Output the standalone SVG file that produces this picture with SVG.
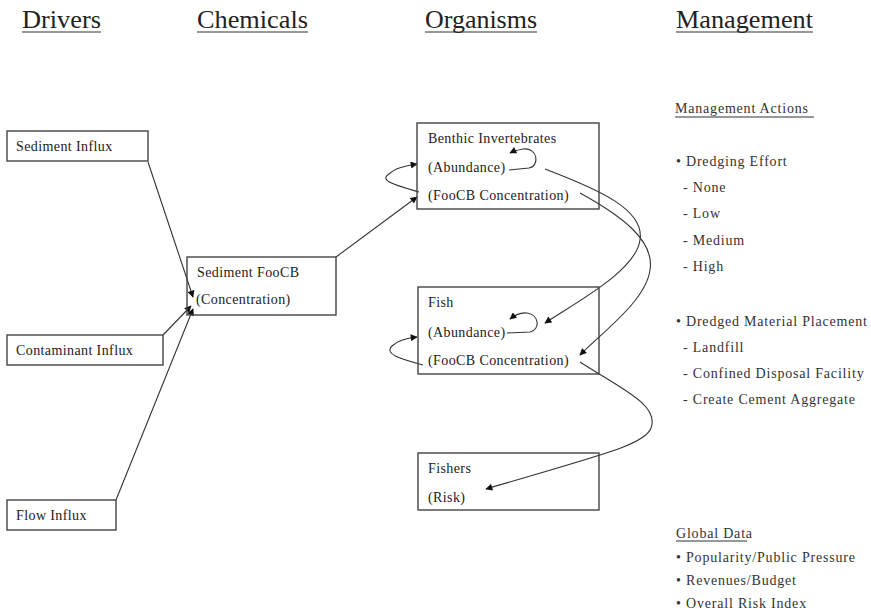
<svg xmlns="http://www.w3.org/2000/svg" width="871" height="616" viewBox="0 0 871 616">
  <style>
    .hdr { font-family: "Liberation Serif", "Times New Roman", serif; font-size: 25px; fill: #222; }
    .ul { stroke: #333; stroke-width: 1.2; }
    .box { fill: none; stroke: #444; stroke-width: 1.4; }
    .t { font-family: "Liberation Serif", "Times New Roman", serif; font-size: 14px; letter-spacing: 0.4px; fill: #222; }
    .m { font-family: "Liberation Serif", "Times New Roman", serif; font-size: 14px; letter-spacing: 0.8px; fill: #333; }
    .link { fill: none; stroke: #333; stroke-width: 1.1; }
    .arr { marker-end: url(#head); }
  </style>
  <defs>
    <marker id="head" viewBox="0 0 10 10" refX="9" refY="5" markerWidth="8" markerHeight="7" markerUnits="userSpaceOnUse" orient="auto">
      <path d="M0,0 L10,5 L0,10 z" fill="#111"/>
    </marker>
  </defs>
  <rect width="871" height="616" fill="#fff"/>

  <!-- column headers -->
  <g id="headers">
    <text class="hdr" x="22" y="28" textLength="79" lengthAdjust="spacingAndGlyphs">Drivers</text>
    <line class="ul" x1="22" y1="32" x2="101" y2="32"/>
    <text class="hdr" x="197" y="28" textLength="111" lengthAdjust="spacingAndGlyphs">Chemicals</text>
    <line class="ul" x1="197" y1="32" x2="308" y2="32"/>
    <text class="hdr" x="425" y="28" textLength="112" lengthAdjust="spacingAndGlyphs">Organisms</text>
    <line class="ul" x1="425" y1="32" x2="537" y2="32"/>
    <text class="hdr" x="676" y="28" textLength="137" lengthAdjust="spacingAndGlyphs">Management</text>
    <line class="ul" x1="676" y1="32" x2="813" y2="32"/>
  </g>

  <!-- connectors -->
  <g id="connectors">
    <path class="link arr" d="M148,162 L193,297"/>
    <path class="link arr" d="M163,335 L191,306"/>
    <path class="link arr" d="M116,500 L193,309"/>
    <path class="link arr" d="M336,257 L417,197"/>
    <path class="link arr" d="M419,192 C398,186 378,181 389,174 C395,168 405,166 417,164"/>
    <path class="link arr" d="M509,170 L529,168 C540,166 538,147 523,149 C518,150 514,151 510,153"/>
    <path class="link arr" d="M545,169 C600,190 645,210 640,240 C636,270 580,300 545,323"/>
    <path class="link arr" d="M580,193 C620,215 655,240 650,270 C646,300 605,330 580,355"/>
    <path class="link arr" d="M507,333 L530,332 C540,330 540,315 527,313 C520,312 515,315 510,319"/>
    <path class="link arr" d="M423,365 C405,360 383,355 392,346 C398,340 408,338 417,337"/>
    <path class="link arr" d="M580,362 C620,388 660,405 651,428 C645,445 600,455 486,489"/>
  </g>

  <!-- drivers -->
  <g id="sediment-influx">
    <rect class="box" x="7" y="131" width="141" height="30"/>
    <text class="t" x="16" y="151">Sediment Influx</text>
  </g>
  <g id="contaminant-influx">
    <rect class="box" x="7" y="335" width="156" height="30"/>
    <text class="t" x="16" y="355">Contaminant Influx</text>
  </g>
  <g id="flow-influx">
    <rect class="box" x="7" y="500" width="109" height="30"/>
    <text class="t" x="16" y="520">Flow Influx</text>
  </g>

  <!-- chemicals -->
  <g id="sediment-foocb">
    <rect class="box" x="187" y="257" width="149" height="58"/>
    <text class="t" x="197" y="277">Sediment FooCB</text>
    <text class="t" x="196" y="304">(Concentration)</text>
  </g>

  <!-- organisms -->
  <g id="benthic-invertebrates">
    <rect class="box" x="417" y="123" width="182" height="86"/>
    <text class="t" x="428" y="143">Benthic Invertebrates</text>
    <text class="t" x="428" y="172">(Abundance)</text>
    <text class="t" x="428" y="200">(FooCB Concentration)</text>
  </g>
  <g id="fish">
    <rect class="box" x="418" y="287" width="181" height="87"/>
    <text class="t" x="428" y="307">Fish</text>
    <text class="t" x="428" y="337">(Abundance)</text>
    <text class="t" x="428" y="365">(FooCB Concentration)</text>
  </g>
  <g id="fishers">
    <rect class="box" x="418" y="453" width="181" height="57"/>
    <text class="t" x="428" y="473">Fishers</text>
    <text class="t" x="428" y="502">(Risk)</text>
  </g>

  <!-- management -->
  <g id="management-actions">
    <text class="m" x="675" y="113">Management Actions</text>
    <line class="ul" x1="675" y1="117" x2="814" y2="117"/>
    <text class="m" x="676" y="166">• Dredging Effort</text>
    <text class="m" x="683" y="192">- None</text>
    <text class="m" x="683" y="218">- Low</text>
    <text class="m" x="683" y="245">- Medium</text>
    <text class="m" x="683" y="271">- High</text>
    <text class="m" x="676" y="326">• Dredged Material Placement</text>
    <text class="m" x="683" y="352">- Landfill</text>
    <text class="m" x="683" y="378">- Confined Disposal Facility</text>
    <text class="m" x="683" y="404">- Create Cement Aggregate</text>
  </g>
  <g id="global-data">
    <text class="m" x="676" y="538">Global Data</text>
    <line class="ul" x1="676" y1="541" x2="747" y2="541"/>
    <text class="m" x="676" y="562">• Popularity/Public Pressure</text>
    <text class="m" x="676" y="585">• Revenues/Budget</text>
    <text class="m" x="676" y="608">• Overall Risk Index</text>
  </g>
</svg>
